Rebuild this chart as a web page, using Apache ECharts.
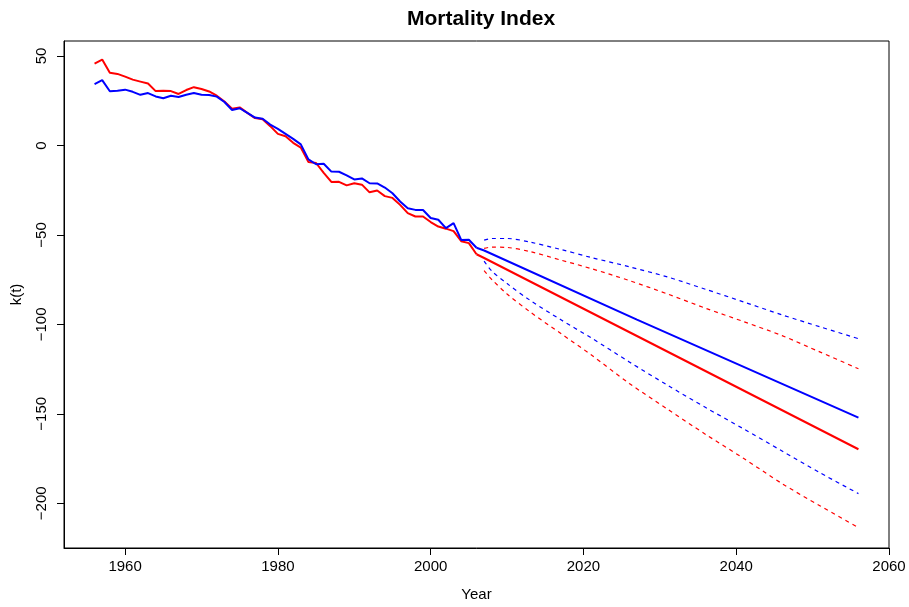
<!DOCTYPE html>
<html>
<head>
<meta charset="utf-8">
<script src="https://cdn.jsdelivr.net/npm/echarts@6/dist/echarts.min.js"></script>
<style>
  html, body { margin: 0; padding: 0; background: #fff; }
  #chart { width: 909px; height: 607px; }
</style>
</head>
<body>
<div id="chart"></div>
<script>
// observed years
const histYears = [1956, 1957, 1958, 1959, 1960, 1961, 1962, 1963, 1964, 1965,
  1966, 1967, 1968, 1969, 1970, 1971, 1972, 1973, 1974, 1975,
  1976, 1977, 1978, 1979, 1980, 1981, 1982, 1983, 1984, 1985,
  1986, 1987, 1988, 1989, 1990, 1991, 1992, 1993, 1994, 1995,
  1996, 1997, 1998, 1999, 2000, 2001, 2002, 2003, 2004, 2005, 2006];
const histRed = [45.8, 48.0, 40.6, 40.0, 38.5, 36.8, 35.7, 34.6, 30.4, 30.6,
  30.4, 28.8, 31.0, 32.6, 31.6, 30.2, 27.8, 24.6, 20.6, 21.3,
  18.2, 15.3, 14.7, 10.8, 6.5, 5.2, 1.5, -1.2, -9.3, -9.8,
  -15.3, -20.4, -20.3, -22.3, -21.1, -21.9, -26.2, -25.2, -28.3, -29.3,
  -33.2, -37.8, -39.7, -39.7, -42.8, -45.3, -46.5, -47.9, -53.5, -54.6, -60.8];
const histBlue = [34.3, 36.5, 30.3, 30.6, 31.2, 30.0, 28.3, 29.3, 27.4, 26.4,
  27.8, 27.1, 28.4, 29.3, 28.4, 28.2, 27.3, 24.3, 19.8, 20.8,
  18.2, 15.6, 14.9, 11.7, 9.3, 6.5, 3.7, 0.6, -7.8, -10.5,
  -10.2, -14.6, -14.7, -16.7, -19.0, -18.4, -21.1, -21.2, -23.5, -26.7,
  -31.3, -35.1, -36.0, -36.1, -40.5, -41.5, -46.2, -43.4, -52.8, -52.7, -57.2];

// forecast centre lines
const meanYears = [2006, 2007, 2027, 2056];
const meanRed = [-60.8, -62.9, -106.5, -169.8];
const meanBlue = [-57.2, -58.7, -97.3, -152.1];

// forecast intervals
const bandYears = [2007, 2008, 2010, 2013, 2017, 2021, 2026, 2031, 2036, 2041, 2046, 2051, 2056];
const upperRed = [-57.5, -56.8, -57.0, -59.3, -64.0, -68.8, -75.5, -83.0, -91.0, -98.5, -106.3, -115.5, -124.8];
const lowerRed = [-70.0, -74.9, -83.0, -93.0, -105.0, -117.0, -133.0, -147.4, -161.5, -175.0, -189.0, -201.5, -213.6];
const upperBlue = [-52.9, -52.0, -52.0, -54.0, -58.1, -62.6, -67.8, -73.5, -80.4, -87.5, -94.7, -101.4, -108.0];
const lowerBlue = [-64.6, -70.2, -77.2, -86.5, -97.3, -107.5, -121.0, -134.0, -146.5, -158.5, -170.8, -183.0, -194.6];

const xTicks = [1960, 1980, 2000, 2020, 2040, 2060];
const yTicks = [-200, -150, -100, -50, 0, 50];

const pairs = (xs, ys) => xs.map((x, i) => [x, ys[i]]);
const minus = (v) => String(v).replace("-", "\u2212");

const solid = (name, xs, ys, color) => ({
  name: name,
  type: "line",
  data: pairs(xs, ys),
  showSymbol: false,
  lineStyle: { color: color, width: 2 },
  animation: false,
});
const dashed = (name, xs, ys, color) => ({
  name: name,
  type: "line",
  data: pairs(xs, ys),
  showSymbol: false,
  smooth: 0.3,
  lineStyle: { color: color, width: 1.2, type: [4, 4] },
  animation: false,
});

const myChart = echarts.init(document.getElementById("chart"));
myChart.setOption({
  backgroundColor: "#fff",
  textStyle: { fontFamily: "Liberation Sans" },
  title: {
    text: "Mortality Index",
    left: 476,
    top: 4,
    textAlign: "center",
    textStyle: { fontSize: 21, fontWeight: "bold", color: "#000", fontFamily: "Liberation Sans" },
  },
  grid: {
    left: 64,
    right: 20,
    top: 41,
    bottom: 59,
    show: true,
    borderColor: "#000",
    borderWidth: 1,
  },
  xAxis: {
    type: "value",
    min: 1952,
    max: 2060,
    name: "Year",
    nameLocation: "middle",
    nameGap: 39,
    nameTextStyle: { fontSize: 15, color: "#000" },
    axisLine: { show: true, onZero: false, lineStyle: { color: "#000" } },
    axisTick: { show: true, length: 7, customValues: xTicks, lineStyle: { color: "#000" } },
    axisLabel: { customValues: xTicks, fontSize: 15, color: "#000", margin: 11, formatter: (v) => String(v) },
    splitLine: { show: false },
  },
  yAxis: {
    type: "value",
    min: -225,
    max: 58.4,
    name: "k(t)",
    nameLocation: "middle",
    nameGap: 40,
    nameRotate: 90,
    nameTextStyle: { fontSize: 15, color: "#000" },
    axisLine: { show: true, onZero: false, lineStyle: { color: "#000" } },
    axisTick: { show: true, length: 7, customValues: yTicks, lineStyle: { color: "#000" } },
    axisLabel: {
      customValues: yTicks,
      rotate: 90,
      fontSize: 15,
      color: "#000",
      margin: 15,
      formatter: minus,
    },
    splitLine: { show: false },
  },
  series: [
    solid("red", histYears, histRed, "#ff0000"),
    solid("blue", histYears, histBlue, "#0000ff"),
    solid("red forecast", meanYears, meanRed, "#ff0000"),
    solid("blue forecast", meanYears, meanBlue, "#0000ff"),
    dashed("red upper", bandYears, upperRed, "#ff0000"),
    dashed("red lower", bandYears, lowerRed, "#ff0000"),
    dashed("blue upper", bandYears, upperBlue, "#0000ff"),
    dashed("blue lower", bandYears, lowerBlue, "#0000ff"),
  ],
});
</script>
</body>
</html>
